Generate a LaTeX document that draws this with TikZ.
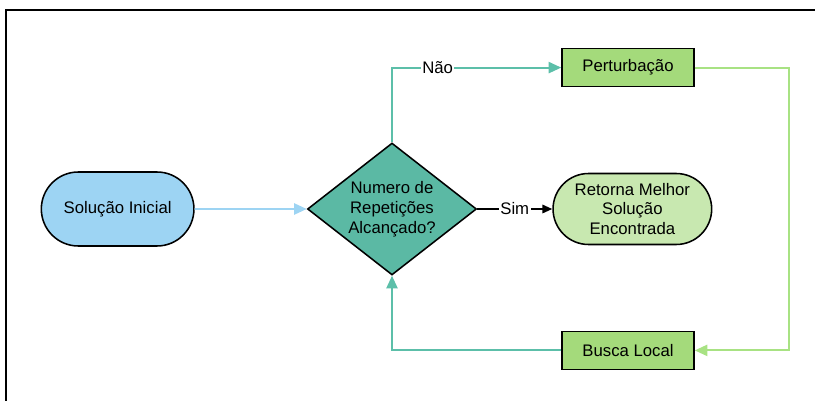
\documentclass[tikz,border=0pt]{standalone}
\usepackage{fontspec}
\setmainfont{Liberation Sans}
\usepackage{xcolor}
\usetikzlibrary{shapes,arrows.meta,positioning,calc}

\definecolor{initblue}{HTML}{9DD4F3}
\definecolor{checkteal}{HTML}{5BB9A4}
\definecolor{retgreen}{HTML}{C8E8B0}
\definecolor{procgreen}{HTML}{A4DA7B}
\definecolor{tealline}{HTML}{5CBFA9}
\definecolor{greenline}{HTML}{A8E283}

\begin{document}
\begin{tikzpicture}[
    font=\fontsize{11.9}{14.2}\selectfont,
    terminal/.style={rounded rectangle, draw, line width=1.1pt, align=center, minimum width=4.05cm, minimum height=1.85cm},
    decision/.style={diamond, aspect=1.3, draw, line width=1.1pt, align=center, minimum width=4.225cm, minimum height=3.3cm, inner sep=0pt},
    process/.style={rectangle, draw, line width=1.1pt, minimum width=3.3cm, minimum height=0.95cm},
    arrow/.style={-{Triangle[length=9pt,width=8pt]}, line width=1.3pt}
]
    \useasboundingbox (0,0) rectangle (20.375,-10.025);
    \draw[line width=1.4pt] (0.15,-10.025) |- (20.375,-0.25);

    \node[decision, fill=checkteal] (check) at (9.8,-5.225) {Numero de\\Repetições\\Alcançado?};
    \node[terminal, fill=initblue, left=2.8cm of check] (init) {Solução Inicial};
    \node[terminal, fill=retgreen, right=1.875cm of check, minimum width=4.2cm, minimum height=1.775cm] (ret) {Retorna Melhor\\Solução\\Encontrada};
    \node[process, fill=procgreen] (pert) at (15.7,-1.69) {Perturbação};
    \node[process, fill=procgreen] (busca) at (15.7,-8.76) {Busca Local};
    \coordinate (loopr) at (19.725,-5);

    \draw[arrow, initblue] (init) -- (check);
    \draw[-{Triangle[length=7pt,width=6pt]}, line width=1.3pt] (check) -- node[fill=white, inner sep=1pt] {Sim} (ret);
    \draw[arrow, tealline] (check.north) |- node[pos=0.635, fill=white, inner sep=1pt, text=black] {Não} (pert);
    \draw[arrow, greenline] (pert) -| (loopr) |- (busca);
    \draw[arrow, tealline] (busca) -| (check);
\end{tikzpicture}
\end{document}
